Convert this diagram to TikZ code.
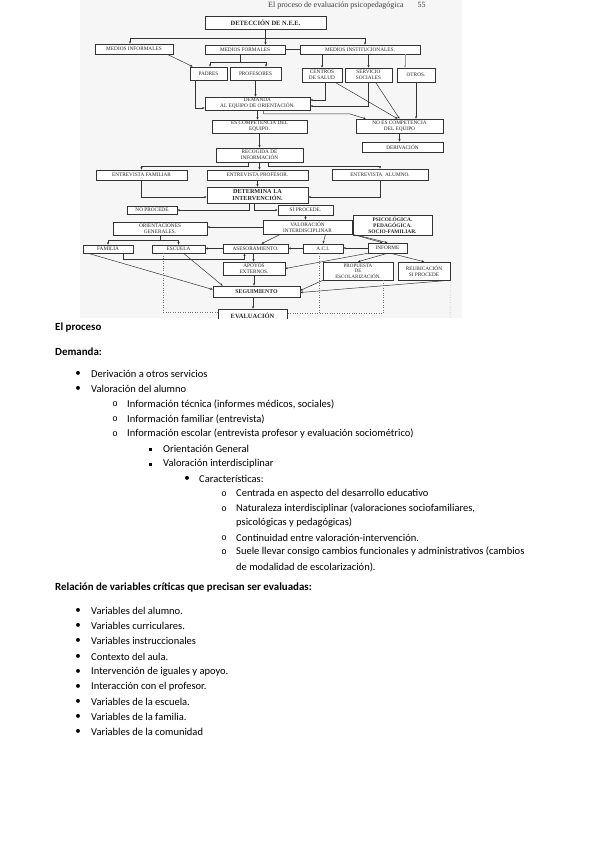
\documentclass[tikz,border=0pt]{standalone}
\usepackage{fontspec}
\setmainfont{Carlito}
\newfontfamily\scanfont{Liberation Serif}
\newfontfamily\bulmono{Liberation Mono}
\usetikzlibrary{arrows.meta}
\begin{document}
\begin{tikzpicture}[x=1pt,y=-1pt,
  bx/.style={draw=black!80, line width=0.55pt, fill=white, inner sep=0pt, align=center,
    font=\scanfont\fontsize{5.3}{5.8}\selectfont, text=black!85},
  bb/.style={bx, font=\scanfont\bfseries\fontsize{6.5}{7}\selectfont},
  ln/.style={draw=black!80, line width=0.5pt},
  ar/.style={ln, -{Stealth[length=2.6pt,width=2.2pt]}},
  dt/.style={draw=black!55, line width=0.45pt, dotted},
  txt/.style={anchor=west, inner sep=0pt, font=\fontsize{10.5}{12}\selectfont},
  txtb/.style={txt, font=\bfseries\fontsize{10.9}{12}\selectfont},
  bul/.style={anchor=center, inner sep=0pt, font=\fontsize{11}{12}\selectfont},
  bulo/.style={anchor=center, inner sep=0pt, font=\bulmono\fontsize{9}{10}\selectfont},
]
\useasboundingbox[fill=white] (0,0) rectangle (599,848);

% ---------------- scanned flowchart ----------------
\begin{scope}
\clip (80,0) rectangle (462,318);
\fill[gray!7] (80,0) rectangle (462,318);
\node[anchor=west, inner sep=0pt, text=black!75, font=\scanfont\fontsize{8}{9}\selectfont] (hdr) at (268,5.5) {El proceso de evaluación psicopedagógica\hspace{14pt}55};

\node[bb, minimum width=121pt, minimum height=13pt] (det) at (265.5,22.5) {DETECCIÓN DE N.E.E.};
\node[bx, minimum width=78pt, minimum height=10pt] (minf) at (134,49) {MEDIOS INFORMALES};
\node[bx, minimum width=80pt, minimum height=9pt] (mfor) at (245,49.5) {MEDIOS FORMALES};
\node[bx, minimum width=120pt, minimum height=9pt] (minst) at (360,49.5) {MEDIOS INSTITUCIONALES.};
\node[bx, minimum width=37pt, minimum height=13pt] (padres) at (208.5,73.5) {PADRES};
\node[bx, minimum width=51pt, minimum height=13pt] (prof) at (255.5,73.5) {PROFESORES};
\node[bx, minimum width=40pt, minimum height=14pt] (csalud) at (322,75) {CENTROS\\DE SALUD};
\node[bx, minimum width=47pt, minimum height=14pt] (ssoc) at (368.5,75) {SERVICIO\\SOCIALES};
\node[bx, minimum width=38pt, minimum height=14pt] (otros) at (416,75) {OTROS.};
\node[bx, minimum width=105pt, minimum height=13pt] (demanda) at (257.5,103.5) {DEMANDA\\AL EQUIPO DE ORIENTACIÓN.};
\node[bx, minimum width=95pt, minimum height=13pt] (escomp) at (259.5,126.5) {ES COMPETENCIA DEL\\EQUIPO.};
\node[bx, minimum width=87pt, minimum height=14pt] (noes) at (399.5,126) {NO ES COMPETENCIA\\DEL EQUIPO};
\node[bx, minimum width=81pt, minimum height=10pt] (deriv) at (402.5,147) {DERIVACIÓN};
\node[bx, minimum width=87pt, minimum height=14pt] (recog) at (259.5,155) {RECOGIDA DE\\INFORMACIÓN};
\node[bx, minimum width=91pt, minimum height=10pt] (efam) at (141.5,175) {ENTREVISTA FAMILIAR};
\node[bx, minimum width=101pt, minimum height=10pt] (eprof) at (257.5,175) {ENTREVISTA PROFESOR.};
\node[bx, minimum width=96pt, minimum height=11pt] (ealum) at (380,174.5) {ENTREVISTA\ \ ALUMNO.};
\node[bb, minimum width=101pt, minimum height=16pt, font=\scanfont\bfseries\fontsize{6.2}{6.6}\selectfont] (determ) at (257.5,195) {DETERMINA LA\\INTERVENCIÓN.};
\node[bx, minimum width=50pt, minimum height=8pt] (noproc) at (152,210) {NO PROCEDE};
\node[bx, minimum width=55pt, minimum height=10pt] (siproc) at (305.5,210) {SI PROCEDE.};
\node[bx, minimum width=94pt, minimum height=13pt] (orient) at (160,228.5) {ORIENTACIONES\\GENERALES.};
\node[bx, minimum width=89pt, minimum height=14pt] (valor) at (307.5,227) {VALORACIÓN\\INTERDISCIPLINAR};
\node[bb, minimum width=79pt, minimum height=20pt, font=\scanfont\bfseries\fontsize{5.4}{5.8}\selectfont] (psico) at (392.5,225) {PSICOLÓGICA.\\PEDAGÓGICA.\\SOCIO-FAMILIAR.};
\node[bx, minimum width=50pt, minimum height=8pt] (familia) at (108,249) {FAMILIA};
\node[bx, minimum width=53pt, minimum height=8pt] (escuela) at (178.5,249) {ESCUELA};
\node[bx, minimum width=65pt, minimum height=9pt] (asesor) at (255.5,248.5) {ASESORAMIENTO.};
\node[bx, minimum width=40pt, minimum height=9pt] (aci) at (323,248.5) {A.C.I.};
\node[bx, minimum width=39pt, minimum height=10pt] (informe) at (387.5,248) {INFORME};
\node[bx, minimum width=62pt, minimum height=13pt] (apoyos) at (254,268.5) {APOYOS\\EXTERNOS.};
\node[bx, minimum width=70pt, minimum height=18pt, font=\scanfont\fontsize{5.1}{5.4}\selectfont] (propuesta) at (358,271) {PROPUESTA\\DE\\ESCOLARIZACIÓN.};
\node[bx, minimum width=52pt, minimum height=18pt] (reubic) at (424,271) {REUBICACIÓN\\SI PROCEDE};
\node[bb, minimum width=87pt, minimum height=11pt, font=\scanfont\bfseries\fontsize{5.8}{6}\selectfont] (seguim) at (256.5,291.5) {SEGUIMIENTO};
\node[bb, minimum width=69pt, minimum height=13pt] (evalua) at (252.5,315.5) {EVALUACIÓN};

% junction coordinates
\coordinate (jA) at (130,38);
\coordinate (jB) at (365,38);
\coordinate (jC) at (210,62);
\coordinate (jD) at (266,62);
\coordinate (jE) at (350,114);
\coordinate (jF) at (141.5,166);
\coordinate (jF2) at (248,166);
\coordinate (jF3) at (268,166);
\coordinate (jF4) at (380,166);
\coordinate (jG) at (108,240);
\coordinate (jH) at (178.5,240);
\coordinate (jI) at (123,259);
\coordinate (jJ) at (244.5,259);
\coordinate (dA) at (163,312);
\coordinate (dB) at (319,313);
\coordinate (dC) at (383,313);
\coordinate (dD) at (450,330);

% connectors
\draw[ln] (det.south) -- (det.south |- jA);
\draw[ar] (det.south |- jA) -- (det.south |- mfor.north);
\draw[ln] (jA) -- (jB);
\draw[ar] (jA) -- (jA |- minf.north);
\draw[ar] (jB) -- (jB |- minst.north);
\draw[ln] (mfor.east) -- (minst.west);
\draw[ar] ([xshift=-6pt]minf.south east) -- ([xshift=3pt]padres.north west);
\draw[ln] ([xshift=-5pt]mfor.south) -- ([xshift=-5pt]mfor.south |- jC);
\draw[ln] (jC) -- (jD);
\draw[ar] (jC) -- (jC |- padres.north);
\draw[ar] (jD) -- (jD |- prof.north);
\draw[ar] (minst.south -| csalud.north) -- (csalud.north);
\draw[ar] (minst.south -| ssoc.north) -- (ssoc.north);
\draw[ar, draw=black!40] ([xshift=-11pt]minst.south -| otros.north) -- ([xshift=-11pt]otros.north);
\draw[ar] ([xshift=-13pt]padres.south) |- ([yshift=-4.5pt]demanda.west);
\draw[ar] (prof.south) -- (prof.south |- demanda.north);
\draw[ar] ([xshift=3pt]csalud.south) |- ([yshift=3.5pt]demanda.east);
\draw[ar] (ssoc.south) |- ([yshift=-2.5pt]demanda.east);
\draw[ar] ([xshift=13pt]csalud.south) -- ([xshift=-2pt]noes.north);
\draw[ar] ([xshift=7pt]ssoc.south) -- (noes.north);
\draw[ar] (otros.south) -- (otros.south |- noes.north);
\draw[ar] (demanda.south) -- (demanda.south |- escomp.north);
\draw[ar] ([xshift=6pt]demanda.south) |- (jE) -- ([xshift=10pt]noes.north west);
\draw[ar] (noes.south) -- (noes.south |- deriv.north);
\draw[ar] (escomp.south) -- (escomp.south |- recog.north);
\draw[ar] (recog.south -| jF2) -- (jF2) -- (jF) -- (efam.north);
\draw[ar] (recog.south) -- (recog.south |- eprof.north);
\draw[ar] (recog.south -| jF3) -- (jF3) -- (jF4) -- (ealum.north);
\draw[ar] (efam.south) |- ([yshift=-2pt]determ.west);
\draw[ar] (eprof.south) -- (eprof.south |- determ.north);
\draw[ar] (ealum.south) |- ([yshift=-2pt]determ.east);
\draw[ar] ([xshift=-8.5pt]determ.south) |- (noproc.east);
\draw[ar] ([xshift=-3.5pt]determ.south) |- (siproc.west);
\draw[ar] (siproc.south) -- (siproc.south |- valor.north);
\draw[ar] (valor.west) -- (valor.west -| orient.east);
\draw[ln] (valor.east) -- (psico.west |- valor.east);
\draw[ln] (orient.south) -- (orient.south |- jG);
\draw[ln] (jG) -- (jH);
\draw[ar] (jG) -- (familia.north);
\draw[ar] (jH) -- (escuela.north);
\draw[ar] ([xshift=-27pt]valor.south) -- ([xshift=6pt]asesor.north);
\draw[ar] ([xshift=18pt]valor.south) -- (aci.north);
\draw[ar] (valor.south east) -- ([xshift=-5pt]informe.north);
\draw[ar] ([xshift=5pt]psico.south west) -- (informe.north);
\draw[ar] (asesor.west) -- (asesor.west -| escuela.east);
\draw[ar] (aci.west) -- (aci.west -| asesor.east);
\draw[ar] (informe.west) -- (informe.west -| aci.east);
\draw[ar] (familia.south -| jI) -- (jI) -- (jJ) -- (jJ |- asesor.south);
\draw[ar] ([xshift=-2pt]asesor.south) -- ([xshift=-2pt]asesor.south |- apoyos.north);
\draw[ar] (informe.south west) -- (apoyos.east);
\draw[ar] (informe.south) -- (propuesta.north);
\draw[ar] ([xshift=3pt]informe.south) -- (reubic.north);
\draw[ar] (apoyos.south) -- (apoyos.south |- seguim.north);
\draw[ar] ([xshift=-20pt]familia.south) -- ([yshift=2pt]seguim.west);
\draw[ar] ([xshift=5pt]escuela.south) -- ([xshift=10pt]seguim.north west);
\draw[ar] (propuesta.south west) -- ([yshift=1pt]seguim.east);
\draw[ar] (reubic.south east) -- ([yshift=-1pt]seguim.east);
\draw[ar] ([xshift=-3.5pt]seguim.south) -- ([xshift=-3.5pt]seguim.south |- evalua.north);
% dotted feedback lines
\draw[dt] (escuela.south -| dA) -- (dA) -- (dA -| evalua.west);
\draw[dt] (aci.south -| dB) -- (dB) -- (dB -| evalua.east);
\draw[dt] (propuesta.south -| dC) -- (dC) -- (dB);
\draw[dt] (reubic.south east) -- (dD);
\end{scope}

% ---------------- text ----------------
\node[txtb] (h1) at (55,328) {El proceso};
\node[txtb] (h2) at (55,352) {Demanda:};

\node[bul] (b1) at (78,374) {\textbullet}; \node[txt] (l1) at (91,374) {Derivación a otros servicios};
\node[bul] (b2) at (78,389) {\textbullet}; \node[txt] (l2) at (91,389) {Valoración del alumno};
\node[bulo] (o1) at (115,404) {o}; \node[txt] (l3) at (127,404) {Información técnica (informes médicos, sociales)};
\node[bulo] (o2) at (115,419) {o}; \node[txt] (l4) at (127,419) {Información familiar (entrevista)};
\node[bulo] (o3) at (115,434) {o}; \node[txt] (l5) at (127,434) {Información escolar (entrevista profesor y evaluación sociométrico)};
\node[bul] (s1) at (150,449) {\rule{3pt}{3pt}}; \node[txt] (l6) at (163,449) {Orientación General};
\node[bul] (s2) at (150,464) {\rule{3pt}{3pt}}; \node[txt] (l7) at (163,464) {Valoración interdisciplinar};
\node[bul] (b3) at (187,479) {\textbullet}; \node[txt] (l8) at (199,479) {Características:};
\node[bulo] (o4) at (224,494) {o}; \node[txt] (l9) at (236,494) {Centrada en aspecto del desarrollo educativo};
\node[bulo] (o5) at (224,509) {o}; \node[txt] (l10) at (236,509) {Naturaleza interdisciplinar (valoraciones sociofamiliares,};
\node[txt] (l11) at (236,523) {psicológicas y pedagógicas)};
\node[bulo] (o6) at (224,538) {o}; \node[txt] (l12) at (236,538) {Continuidad entre valoración-intervención.};
\node[bulo] (o7) at (224,552) {o}; \node[txt] (l13) at (236,552) {Suele llevar consigo cambios funcionales y administrativos (cambios};
\node[txt] (l14) at (236,567) {de modalidad de escolarización).};

\node[txtb] (h3) at (55,588) {Relación de variables críticas que precisan ser evaluadas:};
\node[bul] (v1b) at (78,611) {\textbullet}; \node[txt] (v1) at (91,611) {Variables del alumno.};
\node[bul] (v2b) at (78,626) {\textbullet}; \node[txt] (v2) at (91,626) {Variables curriculares.};
\node[bul] (v3b) at (78,641) {\textbullet}; \node[txt] (v3) at (91,641) {Variables instruccionales};
\node[bul] (v4b) at (78,657) {\textbullet}; \node[txt] (v4) at (91,657) {Contexto del aula.};
\node[bul] (v5b) at (78,672) {\textbullet}; \node[txt] (v5) at (91,672) {Intervención de iguales y apoyo.};
\node[bul] (v6b) at (78,687) {\textbullet}; \node[txt] (v6) at (91,687) {Interacción con el profesor.};
\node[bul] (v7b) at (78,702) {\textbullet}; \node[txt] (v7) at (91,702) {Variables de la escuela.};
\node[bul] (v8b) at (78,717) {\textbullet}; \node[txt] (v8) at (91,717) {Variables de la familia.};
\node[bul] (v9b) at (78,732) {\textbullet}; \node[txt] (v9) at (91,732) {Variables de la comunidad};
\end{tikzpicture}
\end{document}
